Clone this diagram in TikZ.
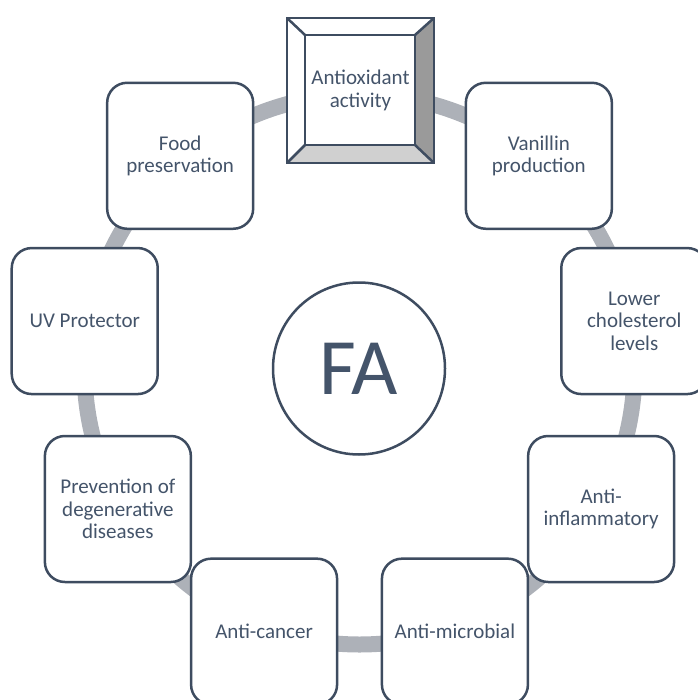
\documentclass[tikz,border=0pt]{standalone}
\usepackage{fontspec}
\setmainfont{Carlito}
\definecolor{boxc}{HTML}{3E4C60}
\definecolor{txtc}{HTML}{44546A}
\definecolor{ringc}{HTML}{ADB1B8}
\definecolor{bevR}{HTML}{9A9A9A}
\definecolor{bevB}{HTML}{D0D0D0}
\tikzset{
  box/.style={draw=boxc, line width=2.5pt, fill=white, rounded corners=20pt,
    minimum width=146pt, minimum height=146pt, align=center, text=txtc,
    font=\fontsize{21}{22.5}\selectfont, inner sep=0pt},
  ringline/.style={draw=ringc, line width=16pt},
  bevline/.style={draw=boxc, line width=2.5pt, line join=miter},
  hub/.style={draw=boxc, line width=2.5pt, fill=white, circle, minimum size=172pt,
    inner sep=0pt, text=txtc, font=\fontsize{80}{80}\selectfont},
  lbl/.style={align=center, text=txtc, font=\fontsize{21}{22.5}\selectfont, inner sep=0pt}
}
\begin{document}
\begin{tikzpicture}[x=1pt,y=-1pt]
\useasboundingbox (0,0) rectangle (697,700);
\coordinate (c) at (359.5,369.5);
% ring
\draw[ringline] (c) circle [radius=275pt];
% hub
\node[hub] (fa) at (359,368.5) {FA};
% boxes
\node[box] (van) at ([shift={(50:279pt)}]c) {Vanillin\\production};
\node[box] (chol) at ([shift={(10:279pt)}]c) {Lower\\cholesterol\\levels};
\node[box] (infl) at ([shift={(-30:279pt)}]c) {Anti-\\inflammatory};
\node[box] (micro) at ([shift={(-70:279pt)}]c) {Anti-microbial};
\node[box] (canc) at ([shift={(-110:279pt)}]c) {Anti-cancer};
\node[box] (prev) at ([shift={(-150:279pt)}]c) {Prevention of\\degenerative\\diseases};
\node[box] (uv) at ([shift={(170:279pt)}]c) {UV Protector};
\node[box] (food) at ([shift={(130:279pt)}]c) {Food\\preservation};
% bevel box
\coordinate (ao) at (360.5,90.5);
\coordinate (oTL) at (287,18);
\coordinate (oTR) at (434,18);
\coordinate (oBR) at (434,163);
\coordinate (oBL) at (287,163);
\coordinate (iTL) at (305,35);
\coordinate (iTR) at (415,35);
\coordinate (iBR) at (415,145);
\coordinate (iBL) at (305,145);
\fill[white] (oTL) -- (oTR) -- (oBR) -- (oBL) -- cycle;
\fill[bevR] (oTR) -- (oBR) -- (iBR) -- (iTR) -- cycle;
\fill[bevB] (oBL) -- (oBR) -- (iBR) -- (iBL) -- cycle;
\draw[bevline] (oTL) -- (oTR) -- (oBR) -- (oBL) -- cycle;
\draw[bevline] (iTL) -- (iTR) -- (iBR) -- (iBL) -- cycle;
\draw[bevline] (oTL) -- (iTL);
\draw[bevline] (oTR) -- (iTR);
\draw[bevline] (oBR) -- (iBR);
\draw[bevline] (oBL) -- (iBL);
\node[lbl] (anti) at (ao) {Antioxidant\\activity};
\end{tikzpicture}
\end{document}
